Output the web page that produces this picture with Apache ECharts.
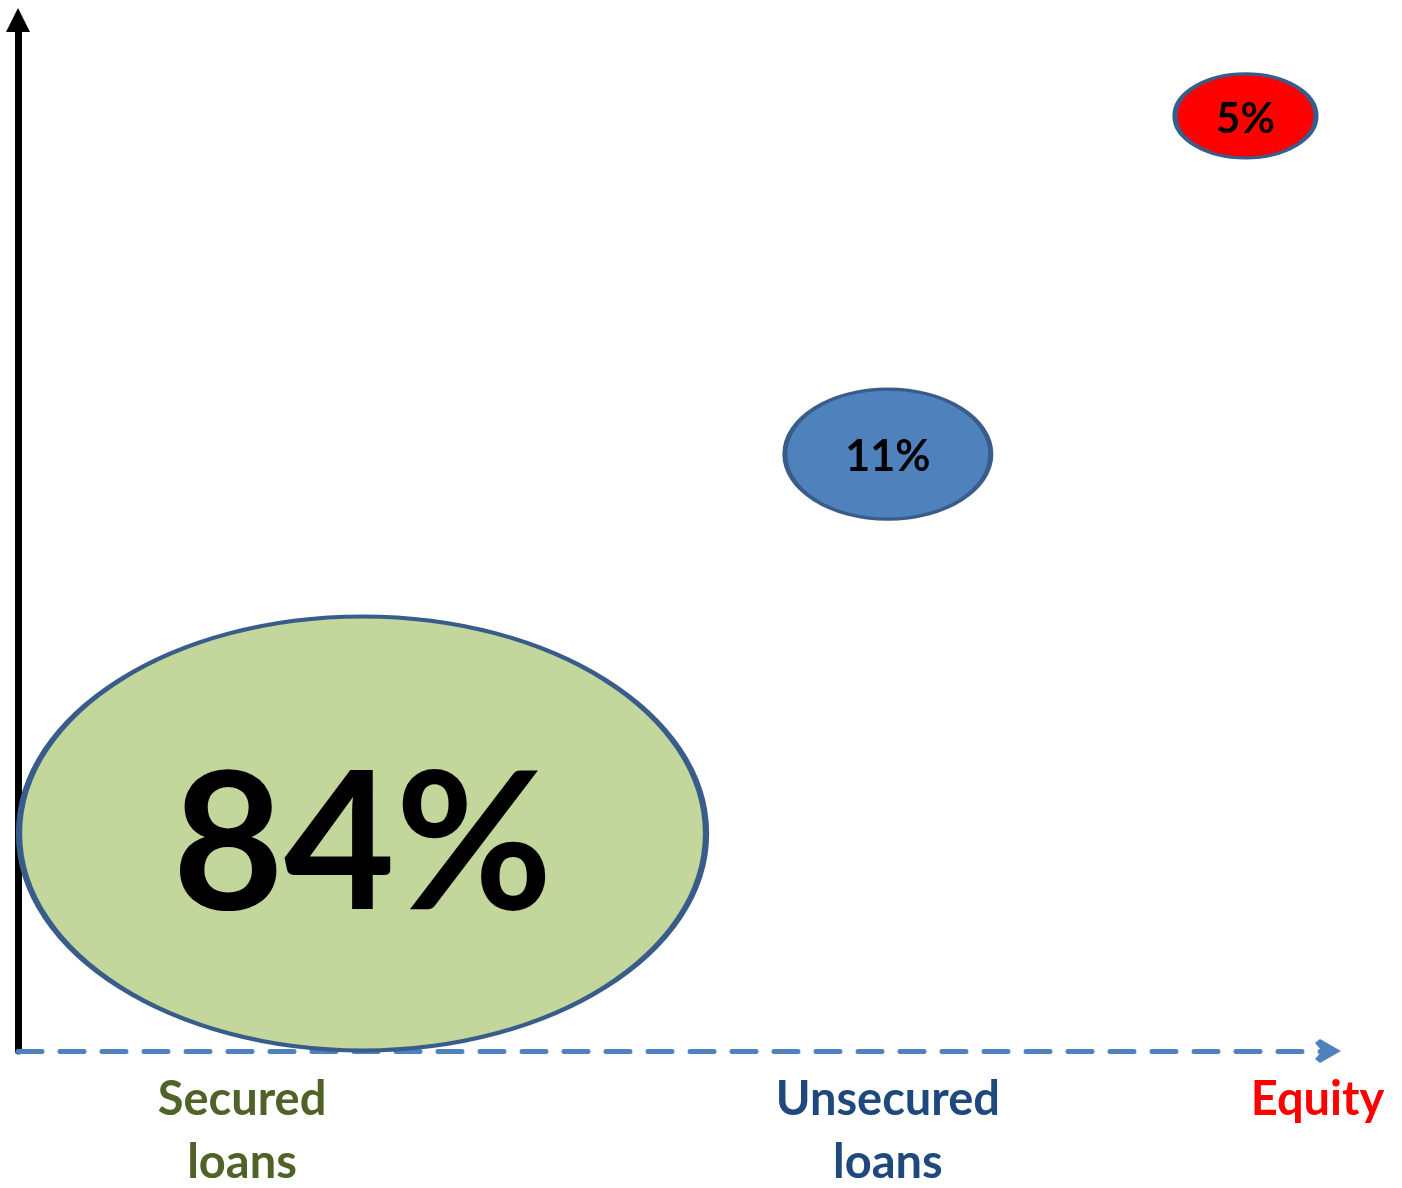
<!DOCTYPE html>
<html>
<head>
<meta charset="utf-8">
<title>Funding mix by risk and return</title>
<script src="https://cdn.jsdelivr.net/npm/echarts@6/dist/echarts.min.js"></script>
<style>
  html, body { margin: 0; padding: 0; background: #ffffff; }
  #chart { width: 1402px; height: 1188px; }
</style>
</head>
<body>
<div id="chart"></div>
<script>
// Funding sources, their share of the total, and where each sits on the risk / return plane
const categories = ['Secured loans', 'Unsecured loans', 'Equity'];
const shares = [84, 11, 5];
const riskScore = [26.3, 66.4, 93.7];
const returnScore = [21.1, 57.9, 90.7];
// Positions of the category names along the risk axis
const categoryTicks = [17.1, 66.4, 99.2];

// Look and feel of each bubble (fill, ellipse box, label size)
const bubbleStyle = [
  { fill: '#C3D69B', size: [687, 434], border: 5, font: 192, offset: [0, 14] },
  { fill: '#4F81BD', size: [206, 130], border: 4, font: 43, offset: [0, 3] },
  { fill: '#FF0000', size: [141, 84], border: 4, font: 42, offset: [0, 4] }
];
const nameColors = ['#4F6228', '#1F497D', '#FF0000'];

const ELLIPSE = 'path://M0,50 C0,22.4 22.4,0 50,0 C77.6,0 100,22.4 100,50 ' +
  'C100,77.6 77.6,100 50,100 C22.4,100 0,77.6 0,50 Z';
const CHEVRON = 'path://M12,0 L24,21 L20,26 L12,19 L4,26 L0,21 Z';

const FONT = 'Lato, "Open Sans", sans-serif';

const bubbles = categories.map(function (name, i) {
  const st = bubbleStyle[i];
  return {
    name: name,
    value: [riskScore[i], returnScore[i], shares[i]],
    symbolSize: st.size,
    itemStyle: { color: st.fill, opacity: 1, borderColor: '#385D8A', borderWidth: st.border },
    label: { fontSize: st.font, offset: st.offset }
  };
});

const rich = {};
nameColors.forEach(function (c, i) {
  rich['c' + i] = {
    color: c, fontFamily: FONT, fontWeight: 'bold',
    fontSize: 47, lineHeight: 63, align: 'center'
  };
});

function categoryLabel(value) {
  let best = 0;
  categoryTicks.forEach(function (t, i) {
    if (Math.abs(t - value) < Math.abs(categoryTicks[best] - value)) best = i;
  });
  const words = categories[best].split(' ');
  return words.map(function (w) { return '{c' + best + '|' + w + '}'; }).join('\n');
}

const chart = echarts.init(document.getElementById('chart'), null, { renderer: 'canvas' });
chart.setOption({
  animation: false,
  backgroundColor: '#ffffff',
  grid: { left: 18, right: 74, top: 20, bottom: 137, containLabel: false },
  xAxis: {
    type: 'value', min: 0, max: 100,
    splitLine: { show: false },
    axisTick: { show: false },
    axisLine: {
      show: true,
      onZero: false,
      symbol: ['none', CHEVRON],
      symbolSize: [24, 26],
      lineStyle: { color: '#4F81BD', width: 5, type: [24, 18] }
    },
    axisLabel: {
      show: true,
      customValues: categoryTicks,
      margin: 17,
      formatter: categoryLabel,
      rich: rich
    }
  },
  yAxis: {
    type: 'value', min: 0, max: 100,
    splitLine: { show: false },
    axisTick: { show: false },
    axisLabel: { show: false },
    axisLine: {
      show: true,
      onZero: false,
      symbol: ['none', 'triangle'],
      symbolSize: [24, 24],
      lineStyle: { color: '#000000', width: 7 }
    }
  },
  series: [{
    type: 'scatter',
    symbol: ELLIPSE,
    data: bubbles,
    itemStyle: { opacity: 1 },
    label: {
      show: true,
      position: 'inside',
      color: '#000000',
      fontFamily: FONT,
      fontWeight: 'bold',
      formatter: function (p) { return p.value[2] + '%'; }
    },
    emphasis: { disabled: true }
  }]
});
</script>
</body>
</html>
